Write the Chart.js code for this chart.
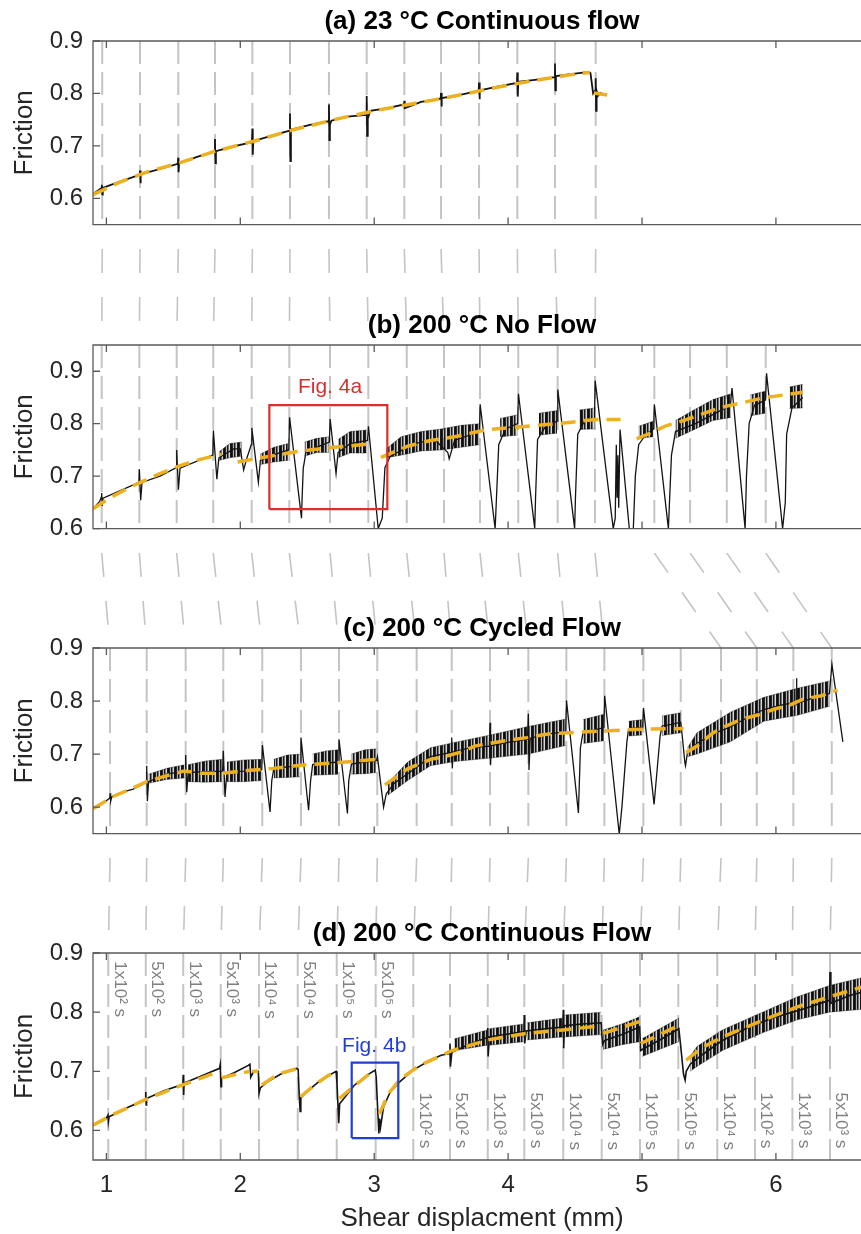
<!DOCTYPE html>
<html><head><meta charset="utf-8"><title>Friction vs shear displacement</title>
<script src="https://cdn.jsdelivr.net/npm/chart.js@4.4.1/dist/chart.umd.min.js"></script>
<style>
html,body{margin:0;padding:0;background:#fff;}
body{width:861px;height:1234px;overflow:hidden;position:relative;}
canvas{position:absolute;left:0;display:block;}
</style></head><body>
<canvas id="cA" width="872" height="249" style="top:0px"></canvas>
<canvas id="cB" width="872" height="304" style="top:249px"></canvas>
<canvas id="cC" width="872" height="305" style="top:553px"></canvas>
<canvas id="cD" width="872" height="376" style="top:858px"></canvas>
<script>
// ---------------- data ----------------
const xTicks = [1, 2, 3, 4, 5, 6];
const yTicksA = [0.6, 0.7, 0.8, 0.9];
const yTicksB = [0.6, 0.7, 0.8, 0.9];
const yTicksC = [0.6, 0.7, 0.8, 0.9];
const yTicksD = [0.6, 0.7, 0.8, 0.9];
const titles = ['(a) 23 °C Continuous flow', '(b) 200 °C No Flow', '(c) 200 °C Cycled Flow', '(d) 200 °C Continuous Flow'];

// positions (mm) of the velocity-step / hold markers in each panel
const stepA = [0.969, 1.251, 1.537, 1.811, 2.090, 2.371, 2.662, 2.944, 3.225, 3.499, 3.783, 4.069, 4.350, 4.654];
const stepB = [0.965, 1.246, 1.525, 1.798, 2.085, 2.366, 2.670, 2.956, 3.243, 3.521, 3.790, 4.076, 4.370, 4.649, 5.092, 5.359, 5.633, 5.924];
const stepC = [1.027, 1.301, 1.592, 1.873, 2.164, 2.453, 2.737, 3.023, 3.317, 3.579, 3.865, 4.151, 4.435, 4.719, 5.010, 5.289, 5.590, 5.857, 6.130, 6.417];
const stepD = [1.014, 1.294, 1.574, 1.854, 2.140, 2.429, 2.720, 3.011, 3.292, 3.566, 3.848, 4.121, 4.412, 4.699, 4.985, 5.271, 5.562, 5.844, 6.123, 6.404];
const holdLabels = ['1x10² s','5x10² s','1x10³ s','5x10³ s','1x10⁴ s','5x10⁴ s','1x10⁵ s','5x10⁵ s',
  '1x10² s','5x10² s','1x10³ s','5x10³ s','1x10⁴ s','5x10⁴ s','1x10⁵ s','5x10⁵ s','1x10⁴ s','1x10² s','1x10³ s','5x10³ s'];

// friction traces [mm, friction]
const traceA = [[0.90,0.608],[0.96,0.619],[0.966,0.626],[0.969,0.607],[0.973,0.620],[1.10,0.632],[1.248,0.645],[1.251,0.653],[1.254,0.629],[1.258,0.646],[1.40,0.656],[1.533,0.666],[1.536,0.678],[1.539,0.650],[1.543,0.667],[1.70,0.681],[1.808,0.689],[1.811,0.713],[1.814,0.667],[1.818,0.690],[1.95,0.699],[2.087,0.707],[2.090,0.733],[2.093,0.683],[2.097,0.709],[2.23,0.719],[2.368,0.729],[2.371,0.762],[2.374,0.671],[2.378,0.731],[2.52,0.740],[2.659,0.747],[2.662,0.779],[2.665,0.711],[2.669,0.740],[2.68,0.748],[2.80,0.756],[2.941,0.759],[2.944,0.795],[2.947,0.719],[2.952,0.752],[2.97,0.767],[3.10,0.772],[3.222,0.779],[3.225,0.786],[3.228,0.772],[3.35,0.784],[3.496,0.790],[3.499,0.801],[3.502,0.775],[3.506,0.791],[3.65,0.798],[3.780,0.805],[3.783,0.821],[3.786,0.789],[3.79,0.806],[3.92,0.813],[4.066,0.820],[4.069,0.840],[4.072,0.794],[4.076,0.822],[4.20,0.826],[4.347,0.831],[4.350,0.857],[4.353,0.806],[4.357,0.833],[4.50,0.838],[4.60,0.841],[4.615,0.839],[4.635,0.800],[4.651,0.806],[4.654,0.829],[4.657,0.767],[4.661,0.805],[4.67,0.795],[4.69,0.801],[4.72,0.797]];
const fitA = [[0.90,0.607],[1.10,0.631],[1.30,0.650],[1.55,0.668],[1.80,0.689],[2.10,0.709],[2.40,0.731],[2.70,0.750],[3.00,0.767],[3.30,0.781],[3.60,0.795],[3.90,0.811],[4.20,0.825],[4.45,0.835],[4.61,0.840],[4.62,null],[4.64,0.801],[4.74,0.797]];

const traceB = [[0.90,0.638],[0.95,0.652],[0.962,0.660],[0.965,0.668],[0.969,0.643],[0.975,0.658],[1.10,0.672],[1.243,0.688],[1.246,0.713],[1.256,0.654],[1.266,0.688],[1.40,0.700],[1.522,0.716],[1.525,0.750],[1.538,0.674],[1.55,0.715],[1.70,0.731],[1.795,0.740],[1.799,0.787],[1.825,0.694],[1.84,0.735],[1.95,0.752],[2.00,0.752],[2.025,0.712],[2.05,0.735],[2.082,0.760],[2.086,0.792],[2.135,0.688],[2.15,0.730],[2.25,0.741],[2.362,0.750],[2.368,0.812],[2.457,0.620],[2.462,0.660],[2.47,0.715],[2.49,0.745],[2.60,0.758],[2.665,0.765],[2.671,0.809],[2.715,0.705],[2.73,0.745],[2.82,0.762],[2.950,0.768],[2.957,0.795],[3.030,0.600],[3.06,0.620],[3.08,0.716],[3.12,0.738],[3.30,0.762],[3.45,0.770],[3.55,0.745],[3.56,0.733],[3.60,0.768],[3.786,0.785],[3.791,0.837],[3.903,0.600],[3.91,0.640],[3.93,0.760],[3.98,0.790],[4.071,0.800],[4.077,0.857],[4.199,0.600],[4.205,0.660],[4.22,0.770],[4.28,0.795],[4.366,0.805],[4.371,0.865],[4.497,0.600],[4.503,0.660],[4.52,0.780],[4.57,0.805],[4.645,0.810],[4.650,0.882],[4.785,0.600],[4.800,0.620],[4.808,0.760],[4.814,0.660],[4.820,0.740],[4.826,0.640],[4.836,0.789],[4.905,0.600],[4.935,0.600],[4.95,0.700],[4.975,0.760],[5.03,0.780],[5.087,0.790],[5.092,0.837],[5.197,0.600],[5.205,0.650],[5.22,0.740],[5.25,0.785],[5.40,0.800],[5.55,0.820],[5.66,0.835],[5.672,0.868],[5.770,0.600],[5.780,0.700],[5.80,0.800],[5.84,0.835],[5.922,0.845],[5.930,0.896],[6.050,0.600],[6.070,0.650],[6.080,0.780],[6.12,0.830],[6.20,0.850]];
// oscillation envelope [mm, low, high]
const bandB = [[1.84,0.730,0.746],[1.92,0.735,0.762],[2.01,0.738,0.765],[2.02,null,null],
  [2.15,0.722,0.742],[2.25,0.727,0.755],[2.355,0.730,0.762],[2.36,null,null],
  [2.48,0.738,0.765],[2.57,0.745,0.772],[2.66,0.745,0.775],[2.665,null,null],
  [2.73,0.735,0.770],[2.82,0.744,0.785],[2.945,0.744,0.788],[2.95,null,null],
  [3.09,0.735,0.752],[3.20,0.740,0.775],[3.35,0.748,0.785],[3.50,0.750,0.790],[3.65,0.755,0.797],[3.785,0.760,0.800],[3.79,null,null],
  [3.94,0.775,0.810],[4.07,0.778,0.817],[4.075,null,null],
  [4.23,0.778,0.820],[4.365,0.782,0.825],[4.37,null,null],
  [4.53,0.789,0.826],[4.645,0.790,0.830],[4.65,null,null],
  [4.975,0.772,0.795],[5.086,0.775,0.805],[5.09,null,null],
  [5.25,0.772,0.806],[5.40,0.790,0.828],[5.53,0.806,0.846],[5.665,0.812,0.857],[5.67,null,null],
  [5.81,0.815,0.855],[5.92,0.820,0.862],[5.925,null,null],
  [6.10,0.829,0.870],[6.20,0.830,0.875]];
const fitB = [[0.90,0.638],[1.05,0.662],[1.20,0.682],[1.40,0.705],[1.55,0.720],[1.70,0.732],[1.86,0.742],[1.92,null],
  [1.98,0.727],[2.20,0.737],[2.45,0.748],[2.70,0.755],[2.95,0.761],[3.00,null],
  [3.05,0.736],[3.25,0.757],[3.42,0.768],[3.60,0.775],[3.85,0.789],[4.10,0.794],[4.40,0.801],[4.65,0.808],[4.84,0.808],[4.90,null],
  [4.96,0.771],[5.07,0.783],[5.18,0.796],[5.31,0.806],[5.41,0.815],[5.53,0.826],[5.64,0.834],[5.77,0.841],[5.90,0.849],[6.01,0.853],[6.20,0.860]];
const boxB = [[2.217,0.637],[3.098,0.637],[3.098,0.8355],[2.217,0.8355],[2.217,0.637]];

const traceC = [[0.90,0.597],[1.00,0.612],[1.025,0.617],[1.028,0.626],[1.032,0.611],[1.04,0.619],[1.10,0.627],[1.20,0.634],[1.297,0.646],[1.301,0.678],[1.306,0.611],[1.315,0.648],[1.45,0.662],[1.588,0.668],[1.592,0.698],[1.600,0.628],[1.61,0.665],[1.74,0.667],[1.868,0.668],[1.873,0.706],[1.886,0.619],[1.90,0.667],[2.03,0.668],[2.160,0.670],[2.165,0.717],[2.222,0.591],[2.235,0.650],[2.25,0.672],[2.35,0.676],[2.448,0.678],[2.453,0.731],[2.510,0.594],[2.525,0.650],[2.54,0.680],[2.64,0.683],[2.732,0.685],[2.737,0.728],[2.800,0.588],[2.81,0.650],[2.83,0.681],[2.93,0.685],[3.018,0.688],[3.024,0.695],[3.070,0.600],[3.09,0.625],[3.15,0.645],[3.30,0.672],[3.42,0.695],[3.575,0.703],[3.579,0.731],[3.583,0.673],[3.59,0.704],[3.72,0.712],[3.860,0.715],[3.865,0.759],[3.869,0.679],[3.875,0.716],[4.00,0.722],[4.145,0.728],[4.151,0.776],[4.156,0.670],[4.165,0.730],[4.30,0.738],[4.430,0.742],[4.436,0.801],[4.525,0.589],[4.54,0.712],[4.56,0.742],[4.64,0.745],[4.715,0.750],[4.721,0.810],[4.830,0.549],[4.850,0.600],[4.887,0.723],[4.90,0.748],[5.005,0.750],[5.011,0.787],[5.090,0.605],[5.135,0.734],[5.15,0.753],[5.22,0.756],[5.289,0.760],[5.300,0.735],[5.320,0.684],[5.325,0.678],[5.34,0.704],[5.41,0.720],[5.53,0.738],[5.66,0.751],[5.78,0.768],[5.91,0.784],[6.03,0.792],[6.150,0.798],[6.153,0.843],[6.157,0.795],[6.28,0.806],[6.40,0.814],[6.418,0.869],[6.50,0.723]];
const bandC = [[1.315,0.645,0.662],[1.45,0.652,0.673],[1.585,0.655,0.680],[1.59,null,null],
  [1.61,0.648,0.680],[1.74,0.647,0.687],[1.865,0.648,0.690],[1.87,null,null],
  [1.90,0.648,0.685],[2.03,0.648,0.689],[2.158,0.650,0.690],[2.16,null,null],
  [2.25,0.655,0.690],[2.35,0.656,0.698],[2.446,0.657,0.700],[2.45,null,null],
  [2.54,0.660,0.700],[2.64,0.661,0.706],[2.73,0.662,0.708],[2.735,null,null],
  [2.83,0.662,0.700],[2.93,0.663,0.708],[3.017,0.665,0.710],[3.02,null,null],
  [3.10,0.622,0.645],[3.25,0.650,0.685],[3.42,0.678,0.712],[3.60,0.686,0.722],[3.85,0.692,0.735],[4.15,0.700,0.752],[4.43,0.716,0.766],[4.44,null,null],
  [4.56,0.720,0.765],[4.715,0.725,0.775],[4.72,null,null],
  [4.90,0.734,0.762],[5.005,0.736,0.765],[5.01,null,null],
  [5.15,0.735,0.772],[5.289,0.740,0.778],[5.30,null,null],
  [5.34,0.695,0.712],[5.41,0.700,0.740],[5.66,0.723,0.779],[5.91,0.762,0.807],[6.16,0.773,0.824],[6.40,0.790,0.838]];
const fitC = [[0.90,0.597],[1.05,0.620],[1.20,0.636],[1.30,0.648],[1.45,0.659],[1.58,0.668],[1.70,0.664],[1.87,0.664],[2.05,0.669],[2.25,0.673],[2.45,0.679],[2.74,0.684],[3.03,0.690],[3.05,null],
  [3.08,0.642],[3.25,0.672],[3.42,0.690],[3.52,0.695],[3.64,0.703],[3.75,0.715],[3.86,0.720],[4.00,0.726],[4.14,0.731],[4.30,0.738],[4.50,0.741],[4.75,0.744],[5.00,0.747],[5.31,0.748],[5.32,null],
  [5.33,0.703],[5.41,0.715],[5.53,0.740],[5.61,0.751],[5.75,0.766],[5.87,0.774],[5.99,0.785],[6.10,0.792],[6.21,0.804],[6.34,0.810],[6.46,0.821]];

const traceD = [[0.90,0.609],[1.00,0.621],[1.012,0.626],[1.015,0.615],[1.02,0.623],[1.15,0.638],[1.291,0.652],[1.294,0.665],[1.297,0.643],[1.30,0.654],[1.43,0.667],[1.571,0.678],[1.574,0.694],[1.577,0.660],[1.58,0.680],[1.70,0.691],[1.845,0.705],[1.850,0.711],[1.856,0.674],[1.86,0.688],[1.95,0.697],[2.06,0.710],[2.072,0.712],[2.078,0.690],[2.10,0.700],[2.135,0.700],[2.140,0.663],[2.15,0.672],[2.20,0.682],[2.30,0.695],[2.42,0.705],[2.432,0.703],[2.440,0.660],[2.447,0.632],[2.452,0.655],[2.50,0.666],[2.60,0.685],[2.715,0.700],[2.722,0.680],[2.735,0.612],[2.742,0.645],[2.76,0.650],[2.85,0.676],[2.95,0.694],[3.008,0.702],[3.015,0.690],[3.025,0.640],[3.035,0.595],[3.040,0.620],[3.047,0.605],[3.07,0.640],[3.12,0.665],[3.19,0.682],[3.29,0.702],[3.42,0.719],[3.50,0.727],[3.563,0.730],[3.566,0.747],[3.569,0.708],[3.58,0.732],[3.70,0.745],[3.845,0.757],[3.848,0.773],[3.851,0.725],[3.86,0.758],[4.00,0.763],[4.118,0.767],[4.121,0.795],[4.124,0.747],[4.135,0.768],[4.28,0.772],[4.409,0.775],[4.412,0.804],[4.415,0.739],[4.42,0.777],[4.55,0.780],[4.695,0.782],[4.705,0.745],[4.72,0.752],[4.85,0.762],[4.982,0.775],[4.99,0.735],[5.01,0.738],[5.15,0.755],[5.275,0.772],[5.29,0.740],[5.31,0.695],[5.322,0.685],[5.33,0.700],[5.36,0.712],[5.45,0.728],[5.60,0.752],[5.80,0.775],[6.00,0.792],[6.20,0.805],[6.400,0.820],[6.404,0.868],[6.41,0.815],[6.55,0.828],[6.71,0.838]];
const bandD = [[3.60,0.735,0.755],[3.845,0.744,0.770],[3.85,null,null],
  [3.86,0.744,0.772],[4.118,0.750,0.780],[4.12,null,null],
  [4.14,0.753,0.782],[4.409,0.758,0.790],[4.41,null,null],
  [4.42,0.758,0.795],[4.695,0.762,0.800],[4.70,null,null],
  [4.71,0.737,0.770],[4.85,0.745,0.780],[4.982,0.750,0.792],[4.99,null,null],
  [5.00,0.725,0.755],[5.275,0.750,0.790],[5.29,null,null],
  [5.36,0.700,0.725],[5.41,0.708,0.742],[5.60,0.735,0.770],[5.90,0.765,0.800],[6.16,0.787,0.826],[6.40,0.800,0.845],[6.71,0.806,0.862]];
const fitD = [[0.90,0.609],[1.05,0.627],[1.29,0.652],[1.57,0.677],[1.84,0.700],[1.85,null],
  [1.86,0.689],[2.07,0.700],[2.08,null],
  [2.09,0.700],[2.135,0.700],[2.15,null],
  [2.16,0.677],[2.28,0.695],[2.43,0.705],[2.44,null],
  [2.45,0.657],[2.55,0.676],[2.65,0.692],[2.72,0.700],[2.73,null],
  [2.74,0.654],[2.85,0.675],[2.95,0.693],[3.01,0.702],[3.02,null],
  [3.04,0.628],[3.10,0.660],[3.19,0.686],[3.34,0.710],[3.57,0.734],[3.85,0.753],[4.13,0.764],[4.41,0.770],[4.70,0.777],[4.705,null],
  [4.71,0.764],[4.98,0.784],[4.985,null],
  [4.99,0.747],[5.28,0.778],[5.29,null],
  [5.33,0.719],[5.45,0.740],[5.58,0.756],[5.75,0.772],[5.91,0.787],[6.16,0.809],[6.40,0.826],[6.71,0.847]];
const boxD = [[2.832,0.587],[3.180,0.587],[3.180,0.7145],[2.832,0.7145],[2.832,0.587]];

// ---------------- rendering ----------------
const FONT = '"Liberation Sans", Arial, Helvetica, sans-serif';
const ORANGE = '#EDB120';
const TXT = '#262626';

function pts(arr, k) { return arr.map(r => ({ x: r[0], y: r[k] })); }

function makePattern(ctx) {
  const alphas = [0.95, 0.85, 0.3, 0.9, 0.55, 0.15, 0.9];
  const c = document.createElement('canvas'); c.width = alphas.length; c.height = 1;
  const g = c.getContext('2d');
  alphas.forEach((a, i) => { g.fillStyle = 'rgba(0,0,0,' + a + ')'; g.fillRect(i, 0, 1, 1); });
  return ctx.createPattern(c, 'repeat');
}

function decoPlugin(o) {
  return {
    id: 'deco',
    beforeDatasetsDraw(chart) {
      const { ctx, chartArea: a, scales: { x } } = chart;
      ctx.save();
      ctx.strokeStyle = '#c4c4c4';
      ctx.lineWidth = 1.6; ctx.setLineDash([24, 24]);
      (o.links || []).forEach(([p, q]) => {
        ctx.beginPath(); ctx.moveTo(x.getPixelForValue(p), 0); ctx.lineTo(x.getPixelForValue(q), a.top); ctx.stroke();
      });
      ctx.lineWidth = 2; ctx.setLineDash([23, 8]);
      o.steps.forEach(s => {
        const p = x.getPixelForValue(s);
        ctx.beginPath(); ctx.moveTo(p, a.top); ctx.lineTo(p, a.bottom); ctx.stroke();
      });
      ctx.restore();
    },
    afterDatasetsDraw(chart) {
      const { ctx, chartArea: a, scales: { x, y } } = chart;
      ctx.save();
      ctx.setLineDash([]);
      ctx.strokeStyle = '#5a5a5a'; ctx.lineWidth = 1.3;
      ctx.beginPath();
      ctx.moveTo(a.right + 5, a.top); ctx.lineTo(a.left, a.top); ctx.lineTo(a.left, a.bottom); ctx.lineTo(a.right + 5, a.bottom);
      ctx.stroke();
      ctx.beginPath();
      x.ticks.forEach(t => {
        const p = x.getPixelForValue(t.value);
        ctx.moveTo(p, a.bottom); ctx.lineTo(p, a.bottom - 7);
        ctx.moveTo(p, a.top); ctx.lineTo(p, a.top + 7);
      });
      y.ticks.forEach(t => {
        const p = y.getPixelForValue(t.value);
        ctx.moveTo(a.left, p); ctx.lineTo(a.left + 7, p);
      });
      ctx.stroke();
      ctx.fillStyle = '#000'; ctx.font = 'bold 26px ' + FONT;
      ctx.textAlign = 'center'; ctx.textBaseline = 'middle';
      ctx.fillText(o.title, (a.left + a.right) / 2, a.top - 19);
      (o.notes || []).forEach(n => {
        ctx.fillStyle = n.color; ctx.font = '21px ' + FONT;
        ctx.fillText(n.text, x.getPixelForValue(n.x), y.getPixelForValue(n.y));
      });
      if (o.holds) {
        ctx.fillStyle = '#808080'; ctx.font = '17px ' + FONT;
        ctx.textAlign = 'left'; ctx.textBaseline = 'middle';
        o.steps.forEach((s, i) => {
          const px = x.getPixelForValue(s) + 11;
          const py = y.getPixelForValue(i < 8 ? 0.886 : 0.664);
          ctx.save(); ctx.translate(px, py); ctx.rotate(Math.PI / 2);
          ctx.fillText(o.holds[i], 0, 0); ctx.restore();
        });
      }
      ctx.restore();
    }
  };
}

function makePanel(id, o) {
  const canvas = document.getElementById(id);
  const ctx = canvas.getContext('2d');
  const ds = [];
  if (o.band) {
    ds.push({ data: pts(o.band, 2), fill: '+1', backgroundColor: makePattern(ctx), borderColor: 'rgba(0,0,0,0.55)', borderWidth: 0.6, order: 3 });
    ds.push({ data: pts(o.band, 1), fill: false, borderColor: 'rgba(0,0,0,0.55)', borderWidth: 0.6, order: 3 });
  }
  ds.push({ data: pts(o.trace, 1), borderColor: '#141414', borderWidth: o.lw, fill: false, order: 2 });
  ds.push({ data: pts(o.fit, 1), borderColor: ORANGE, borderWidth: 3.5, borderDash: [15, 8], fill: false, order: 1 });
  if (o.box) ds.push({ data: pts(o.box, 1), borderColor: o.boxColor, borderWidth: 2.2, fill: false, order: 0 });

  const bottomAxis = !!o.showX;
  return new Chart(ctx, {
    type: 'line',
    data: { datasets: ds },
    options: {
      responsive: false, animation: false, devicePixelRatio: 1, events: [],
      layout: { padding: { top: o.padTop, bottom: bottomAxis ? 0 : 1, left: 0, right: 1 } },
      elements: { point: { radius: 0 }, line: { tension: 0 } },
      plugins: { legend: { display: false }, tooltip: { enabled: false } },
      scales: {
        x: {
          type: 'linear', min: 0.9, max: 6.71,
          afterBuildTicks(s) { s.ticks = xTicks.map(v => ({ value: v })); },
          afterFit(s) { s.height = bottomAxis ? 74 : 0; },
          grid: { display: false, drawTicks: false }, border: { display: false },
          ticks: { display: bottomAxis, padding: 11, color: TXT, font: { family: FONT, size: 24 }, maxRotation: 0, autoSkip: false, callback: v => String(v) },
          title: { display: bottomAxis, text: 'Shear displacment (mm)', color: TXT, font: { family: FONT, size: 26 }, padding: { top: 0, bottom: 0 } }
        },
        y: {
          type: 'linear', min: o.yMin, max: o.yMax,
          afterBuildTicks(s) { s.ticks = o.yTicks.map(v => ({ value: v })); },
          afterFit(s) { s.width = 93; },
          grid: { display: false, drawTicks: false }, border: { display: false },
          ticks: { padding: 10, color: TXT, font: { family: FONT, size: 24 }, autoSkip: false, callback: v => Number(v).toFixed(1) },
          title: { display: true, text: 'Friction', color: TXT, font: { family: FONT, size: 26 }, padding: { top: 9, bottom: 0 } }
        }
      }
    },
    plugins: [decoPlugin(o)]
  });
}

const linkAB = stepA.map((s, i) => [s, stepB[i]]);
const linkBC = stepB.map((s, i) => [s, stepC[i < 14 ? i : i + 2]]);
const linkCD = stepC.map((s, i) => [s, stepD[i]]);

makePanel('cA', { title: titles[0], trace: traceA, fit: fitA, lw: 1.8, yMin: 0.55, yMax: 0.9, yTicks: yTicksA, padTop: 41, steps: stepA });
makePanel('cB', { title: titles[1], trace: traceB, band: bandB, fit: fitB, lw: 1.3, yMin: 0.6, yMax: 0.95, yTicks: yTicksB, padTop: 96, steps: stepB, links: linkAB,
  box: boxB, boxColor: '#d8302c', notes: [{ text: 'Fig. 4a', x: 2.67, y: 0.869, color: '#d8302c' }] });
makePanel('cC', { title: titles[2], trace: traceC, band: bandC, fit: fitC, lw: 1.3, yMin: 0.55, yMax: 0.9, yTicks: yTicksC, padTop: 95, steps: stepC, links: linkBC });
makePanel('cD', { title: titles[3], trace: traceD, band: bandD, fit: fitD, lw: 1.6, yMin: 0.55, yMax: 0.9, yTicks: yTicksD, padTop: 95, steps: stepD, links: linkCD,
  box: boxD, boxColor: '#1f3fd0', notes: [{ text: 'Fig. 4b', x: 3.00, y: 0.743, color: '#1f3fd0' }], holds: holdLabels, showX: true });
</script>
</body></html>
